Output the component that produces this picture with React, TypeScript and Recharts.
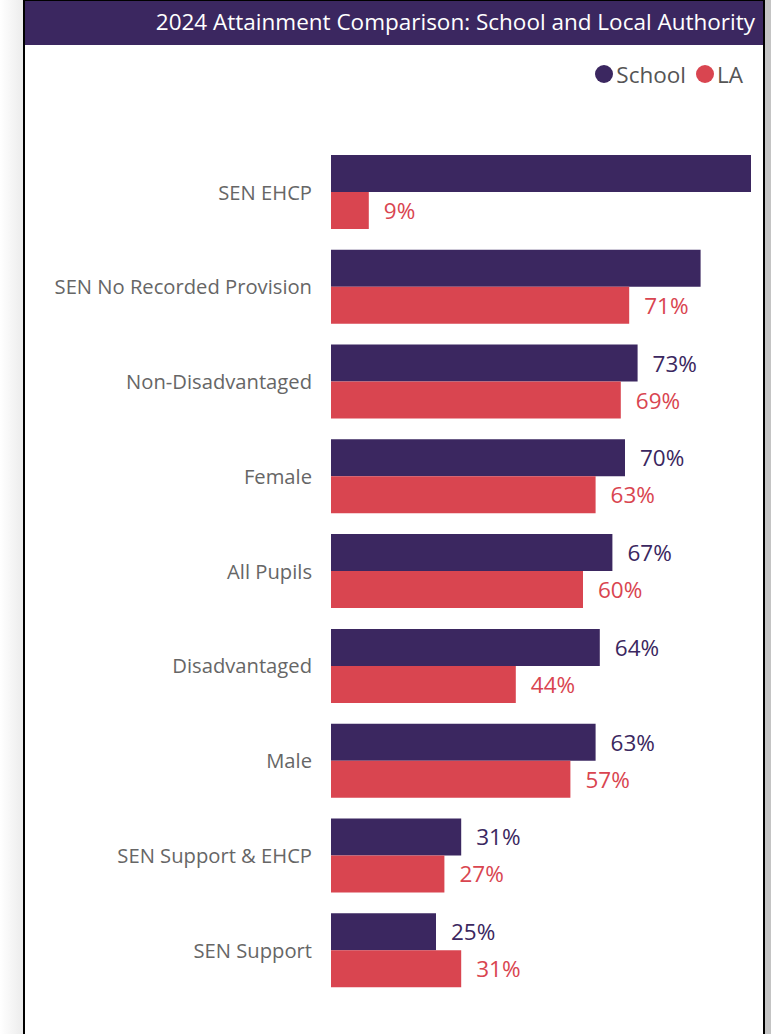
import React from "react";
import { BarChart, Bar, XAxis, YAxis, LabelList } from "recharts";

const categories = [
  "SEN EHCP",
  "SEN No Recorded Provision",
  "Non-Disadvantaged",
  "Female",
  "All Pupils",
  "Disadvantaged",
  "Male",
  "SEN Support & EHCP",
  "SEN Support",
];
const schoolValues = [100, 88, 73, 70, 67, 64, 63, 31, 25];
const laValues = [9, 71, 69, 63, 60, 44, 57, 27, 31];
const hiddenSchoolLabels = ["SEN EHCP", "SEN No Recorded Provision"];

const data = categories.map((name, i) => ({
  name,
  school: schoolValues[i],
  la: laValues[i],
}));

const PURPLE = "#3B2760";
const RED = "#D94550";
const FONT = "'Open Sans', 'Noto Sans', sans-serif";

const makeLabel = (color: string, hideFor: string[]) => (props: any) => {
  const { x, y, width, height, value, index } = props;
  if (hideFor.includes(categories[index])) return null;
  return (
    <text
      x={Number(x) + Number(width) + 15}
      y={Number(y) + Number(height) / 2}
      dominantBaseline="central"
      fill={color}
      fontSize={22.5}
      fontFamily={FONT}
    >
      {value}%
    </text>
  );
};

export default function App() {
  return (
    <div
      style={{
        position: "absolute",
        left: 0,
        top: 0,
        width: 771,
        height: 1034,
        background: "#ffffff",
        overflow: "hidden",
        fontFamily: FONT,
      }}
    >
      {/* left shadow */}
      <div
        style={{
          position: "absolute",
          left: 0,
          top: 0,
          width: 23,
          height: 1034,
          background: "linear-gradient(to right, #ffffff, #ececec)",
        }}
      />
      {/* right grey strip */}
      <div
        style={{
          position: "absolute",
          left: 765,
          top: 0,
          width: 6,
          height: 1034,
          background: "#c4c4c4",
        }}
      />
      {/* frame */}
      <div
        style={{
          position: "absolute",
          left: 23,
          top: 0,
          width: 738,
          height: 1040,
          borderLeft: "2px solid #000",
          borderRight: "2px solid #000",
          borderTop: "1px solid #000",
          boxSizing: "content-box",
        }}
      />
      {/* title bar */}
      <div
        style={{
          position: "absolute",
          left: 25,
          top: 1,
          width: 738,
          height: 44,
          background: PURPLE,
          color: "#ffffff",
          fontSize: 22.5,
          lineHeight: "42px",
          textAlign: "right",
          paddingRight: 8,
          boxSizing: "border-box",
          whiteSpace: "nowrap",
        }}
      >
        2024 Attainment Comparison: School and Local Authority
      </div>
      {/* legend */}
      <div
        style={{
          position: "absolute",
          right: 28,
          top: 59,
          height: 30,
          display: "flex",
          alignItems: "center",
          fontSize: 22.5,
          color: "#555555",
          whiteSpace: "nowrap",
        }}
      >
        <span
          style={{
            display: "inline-block",
            width: 18,
            height: 18,
            borderRadius: 9,
            background: PURPLE,
            marginRight: 3,
          }}
        />
        <span style={{ marginRight: 10 }}>School</span>
        <span
          style={{
            display: "inline-block",
            width: 18,
            height: 18,
            borderRadius: 9,
            background: RED,
            marginRight: 3,
          }}
        />
        <span>LA</span>
      </div>
      <div style={{ position: "absolute", left: 0, top: 0 }}>
        <BarChart
          width={771}
          height={1034}
          data={data}
          layout="vertical"
          margin={{ top: 145, right: 20, bottom: 36, left: 0 }}
          barCategoryGap={10}
          barGap={0}
        >
          <XAxis type="number" domain={[0, 100]} hide />
          <YAxis
            type="category"
            dataKey="name"
            width={331}
            axisLine={false}
            tickLine={false}
            tickSize={0}
            tickMargin={19}
            tick={{ fontSize: 20.2, fill: "#666666", fontFamily: FONT }}
            interval={0}
          />
          <Bar dataKey="school" fill={PURPLE} isAnimationActive={false}>
            <LabelList dataKey="school" content={makeLabel(PURPLE, hiddenSchoolLabels)} />
          </Bar>
          <Bar dataKey="la" fill={RED} isAnimationActive={false}>
            <LabelList dataKey="la" content={makeLabel(RED, [])} />
          </Bar>
        </BarChart>
      </div>
    </div>
  );
}
